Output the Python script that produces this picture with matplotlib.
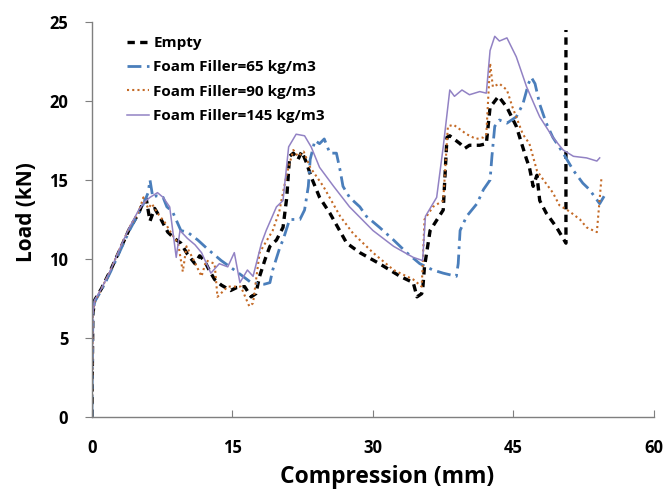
import matplotlib
matplotlib.use("Agg")
import matplotlib.pyplot as plt

plt.rcParams['font.family'] = ['Open Sans', 'DejaVu Sans']

# Empty tube
empty_x = [0, 0.1, 0.3, 1, 2, 3, 4, 5, 5.4, 5.8, 6.2, 6.7, 7.3, 8.1, 8.8, 9.5, 10.2, 11, 11.5, 12,
           12.6, 13.1, 13.8, 14.8, 15.5, 16.3, 17, 17.5, 17.9, 18.5, 19, 19.7, 20.4, 20.8, 21.1, 21.5,
           22, 22.4, 22.9, 23.4, 24.3, 25.4, 27.2, 28.6, 30.7, 32.9, 34.3, 34.7, 35.2, 35.3, 35.5, 36.1,
           37.5, 37.9, 38.2, 39.3, 39.8, 40.3, 41.4, 42.1, 42.5, 43.4, 44.3, 45.3, 46.4, 46.7, 47.1,
           47.5, 47.8, 48.5, 49.6, 50.6, 50.6]
empty_y = [0, 6.5, 7.4, 8.1, 9.3, 10.6, 11.9, 12.9, 13.5, 13.8, 12.4, 13.2, 12.6, 11.7, 11.3, 11.0,
           10.3, 9.7, 10.2, 9.9, 9.2, 8.7, 8.35, 8.0, 8.2, 8.25, 7.6, 7.8, 8.9, 10.0, 10.8, 11.2, 12.0,
           13.9, 16.5, 16.7, 16.3, 16.8, 16.1, 15.2, 13.9, 12.9, 11.0, 10.4, 9.7, 8.9, 8.5, 7.6, 7.8,
           8.0, 9.5, 11.8, 13.1, 17.7, 17.8, 17.3, 17.0, 17.2, 17.2, 17.3, 19.6, 20.3, 19.6, 18.4, 16.3,
           15.8, 14.6, 15.3, 13.7, 12.9, 12.0, 11.0, 24.5]

# Foam filler 65 kg/m3
f65_x = [0, 0.1, 0.3, 1, 2, 3, 4, 5, 5.6, 6.0, 6.2, 6.5, 6.9, 7.6, 8.0, 8.6, 9.5, 10.2, 11.3, 12.4,
         13.8, 15.2, 15.9, 17.0, 18.4, 19.0, 19.3, 20.1, 20.4, 21.1, 22.2, 22.7, 23.1, 23.3, 23.8, 24.3,
         24.8, 25.4, 26.1, 26.5, 26.8, 27.5, 28.6, 29.3, 30.7, 32.2, 33.6, 35.0, 36.4, 37.5, 38.9, 39.1,
         39.3, 40.0, 41.1, 41.8, 42.5, 42.7, 43.0, 43.5, 44.3, 45.3, 46.0, 46.6, 46.9, 47.3, 47.8, 48.5,
         49.2, 50.3, 51.4, 52.4, 53.1, 54.2, 54.9]
f65_y = [0, 6.5, 7.3, 8.0, 9.2, 10.5, 11.8, 12.9, 13.6, 14.2, 15.0, 13.9, 14.0, 13.9, 13.3, 13.0,
         11.8, 11.7, 11.2, 10.6, 9.9, 9.3, 9.0, 8.5, 8.4, 8.5, 9.3, 10.8, 11.2, 12.5, 12.5, 13.1, 14.6,
         16.3, 17.5, 17.3, 17.6, 16.7, 16.7, 15.6, 14.6, 13.9, 13.3, 12.7, 12.0, 11.2, 10.4, 9.7, 9.3,
         9.1, 8.9, 9.7, 11.8, 12.7, 13.5, 14.4, 15.0, 16.5, 18.4, 18.8, 18.6, 19.0, 19.8, 21.1, 21.5,
         21.1, 19.8, 18.6, 17.7, 16.7, 15.6, 14.8, 14.4, 13.5, 14.2]

# Foam filler 90 kg/m3
f90_x = [0, 0.1, 0.3, 1, 2, 3, 4, 5, 5.5, 6.0, 6.4, 7.0, 7.8, 8.5, 9.2, 9.7, 10.1, 10.8, 11.7, 12.2,
         13.1, 13.4, 14.5, 15.9, 16.8, 17.2, 17.9, 19.3, 20.0, 20.8, 21.5, 22.0, 22.6, 23.3, 24.7, 26.5,
         27.9, 30.0, 32.2, 34.3, 35.2, 35.3, 35.5, 36.4, 37.5, 38.0, 38.6, 40.0, 41.0, 41.8, 42.1, 42.5,
         42.8, 43.5, 44.3, 44.9, 46.0, 46.7, 47.5, 48.2, 49.2, 49.9, 51.0, 52.1, 52.8, 53.9, 54.4]
f90_y = [0, 6.5, 7.3, 8.1, 9.3, 10.7, 12.0, 13.0, 13.9, 13.2, 13.5, 12.9, 12.3, 11.6, 11.0, 9.2,
         10.8, 10.0, 8.9, 9.9, 9.7, 7.6, 8.25, 8.25, 7.0, 7.2, 10.4, 11.8, 13.0, 15.4, 16.9, 16.5,
         16.8, 15.8, 14.6, 12.7, 11.6, 10.4, 9.3, 8.7, 8.25, 9.5, 12.5, 13.3, 13.7, 18.4, 18.5, 17.9,
         17.6, 17.7, 17.9, 22.4, 20.9, 21.1, 20.7, 19.6, 17.9, 17.3, 15.6, 15.0, 14.2, 13.4, 13.0, 12.5,
         12.0, 11.7, 15.2]

# Foam filler 145 kg/m3
f145_x = [0, 0.1, 0.3, 1, 2, 3, 4, 5, 5.6, 6.2, 7.0, 7.6, 8.3, 9.0, 9.4, 10.2, 11.0, 11.7, 12.7,
          13.6, 14.5, 15.2, 15.8, 16.6, 17.2, 18.1, 18.6, 19.7, 20.4, 21.0, 21.8, 22.7, 23.4, 24.3,
          25.8, 27.5, 30.0, 32.2, 34.3, 35.3, 35.6, 36.8, 37.5, 38.2, 38.7, 39.5, 40.3, 41.4, 42.1,
          42.5, 43.0, 43.5, 44.3, 45.3, 46.4, 47.5, 47.8, 49.2, 50.3, 51.4, 52.8, 53.9, 54.2]
f145_y = [0, 6.5, 7.4, 8.1, 9.3, 10.7, 12.0, 13.1, 13.6, 13.9, 14.2, 13.9, 13.3, 10.1, 11.8, 11.3,
          10.9, 10.4, 9.1, 9.7, 9.5, 10.4, 8.5, 9.3, 8.9, 11.0, 11.8, 13.3, 13.7, 17.1, 17.9, 17.8,
          17.1, 15.8, 14.6, 13.3, 11.8, 10.8, 10.1, 9.9, 12.7, 13.9, 17.1, 20.7, 20.3, 20.7, 20.4,
          20.6, 20.5, 23.2, 24.1, 23.8, 24.0, 22.8, 20.9, 19.4, 19.0, 17.7, 16.9, 16.5, 16.4, 16.2, 16.4]

labels = ["Empty", "Foam Filler=65 kg/m3", "Foam Filler=90 kg/m3", "Foam Filler=145 kg/m3"]
x_ticks = [0, 15, 30, 45, 60]
y_ticks = [0, 5, 10, 15, 20, 25]

fig = plt.figure(figsize=(6.66, 4.91), dpi=100)
ax = fig.add_axes([0.138, 0.151, 0.844, 0.804])

ax.plot(empty_x, empty_y, color="black", lw=2.4, dashes=(2.2, 1.6), label=labels[0])
ax.plot(f65_x, f65_y, color="#4a7ebb", lw=2.0, dashes=(5, 2, 1, 2), label=labels[1])
ax.plot(f90_x, f90_y, color="#c46a26", lw=1.5, dashes=(1, 1.5), label=labels[2])
ax.plot(f145_x, f145_y, color="#9282c4", lw=1.1, label=labels[3])

ax.set_xlim(0, 60)
ax.set_ylim(0, 25)
ax.set_xticks(x_ticks)
ax.set_yticks(y_ticks)
for s in ["top", "right"]:
    ax.spines[s].set_visible(False)
for s in ["left", "bottom"]:
    ax.spines[s].set_color("#7f7f7f")
    ax.spines[s].set_linewidth(1.0)

ax.tick_params(axis="x", direction="in", length=5, pad=16, color="#7f7f7f")
ax.tick_params(axis="y", direction="out", length=5, pad=12, color="#7f7f7f")
for t in ax.get_xticklabels() + ax.get_yticklabels():
    t.set_fontsize(12)
    t.set_fontweight("bold")

ax.set_xlabel("Compression (mm)", fontsize=16.5, fontweight="bold")
ax.xaxis.set_label_coords(0.525, -0.122)
ax.set_ylabel("Load (kN)", fontsize=15, fontweight="bold")
ax.yaxis.set_label_coords(-0.098, 0.52)

leg = ax.legend(loc="upper left", bbox_to_anchor=(0.062, 0.965), frameon=False,
                prop={"size": 11, "weight": "bold"}, handlelength=1.45,
                handletextpad=0.3, labelspacing=0.68, borderpad=0, borderaxespad=0)

fig.savefig("out.png", dpi=100)
